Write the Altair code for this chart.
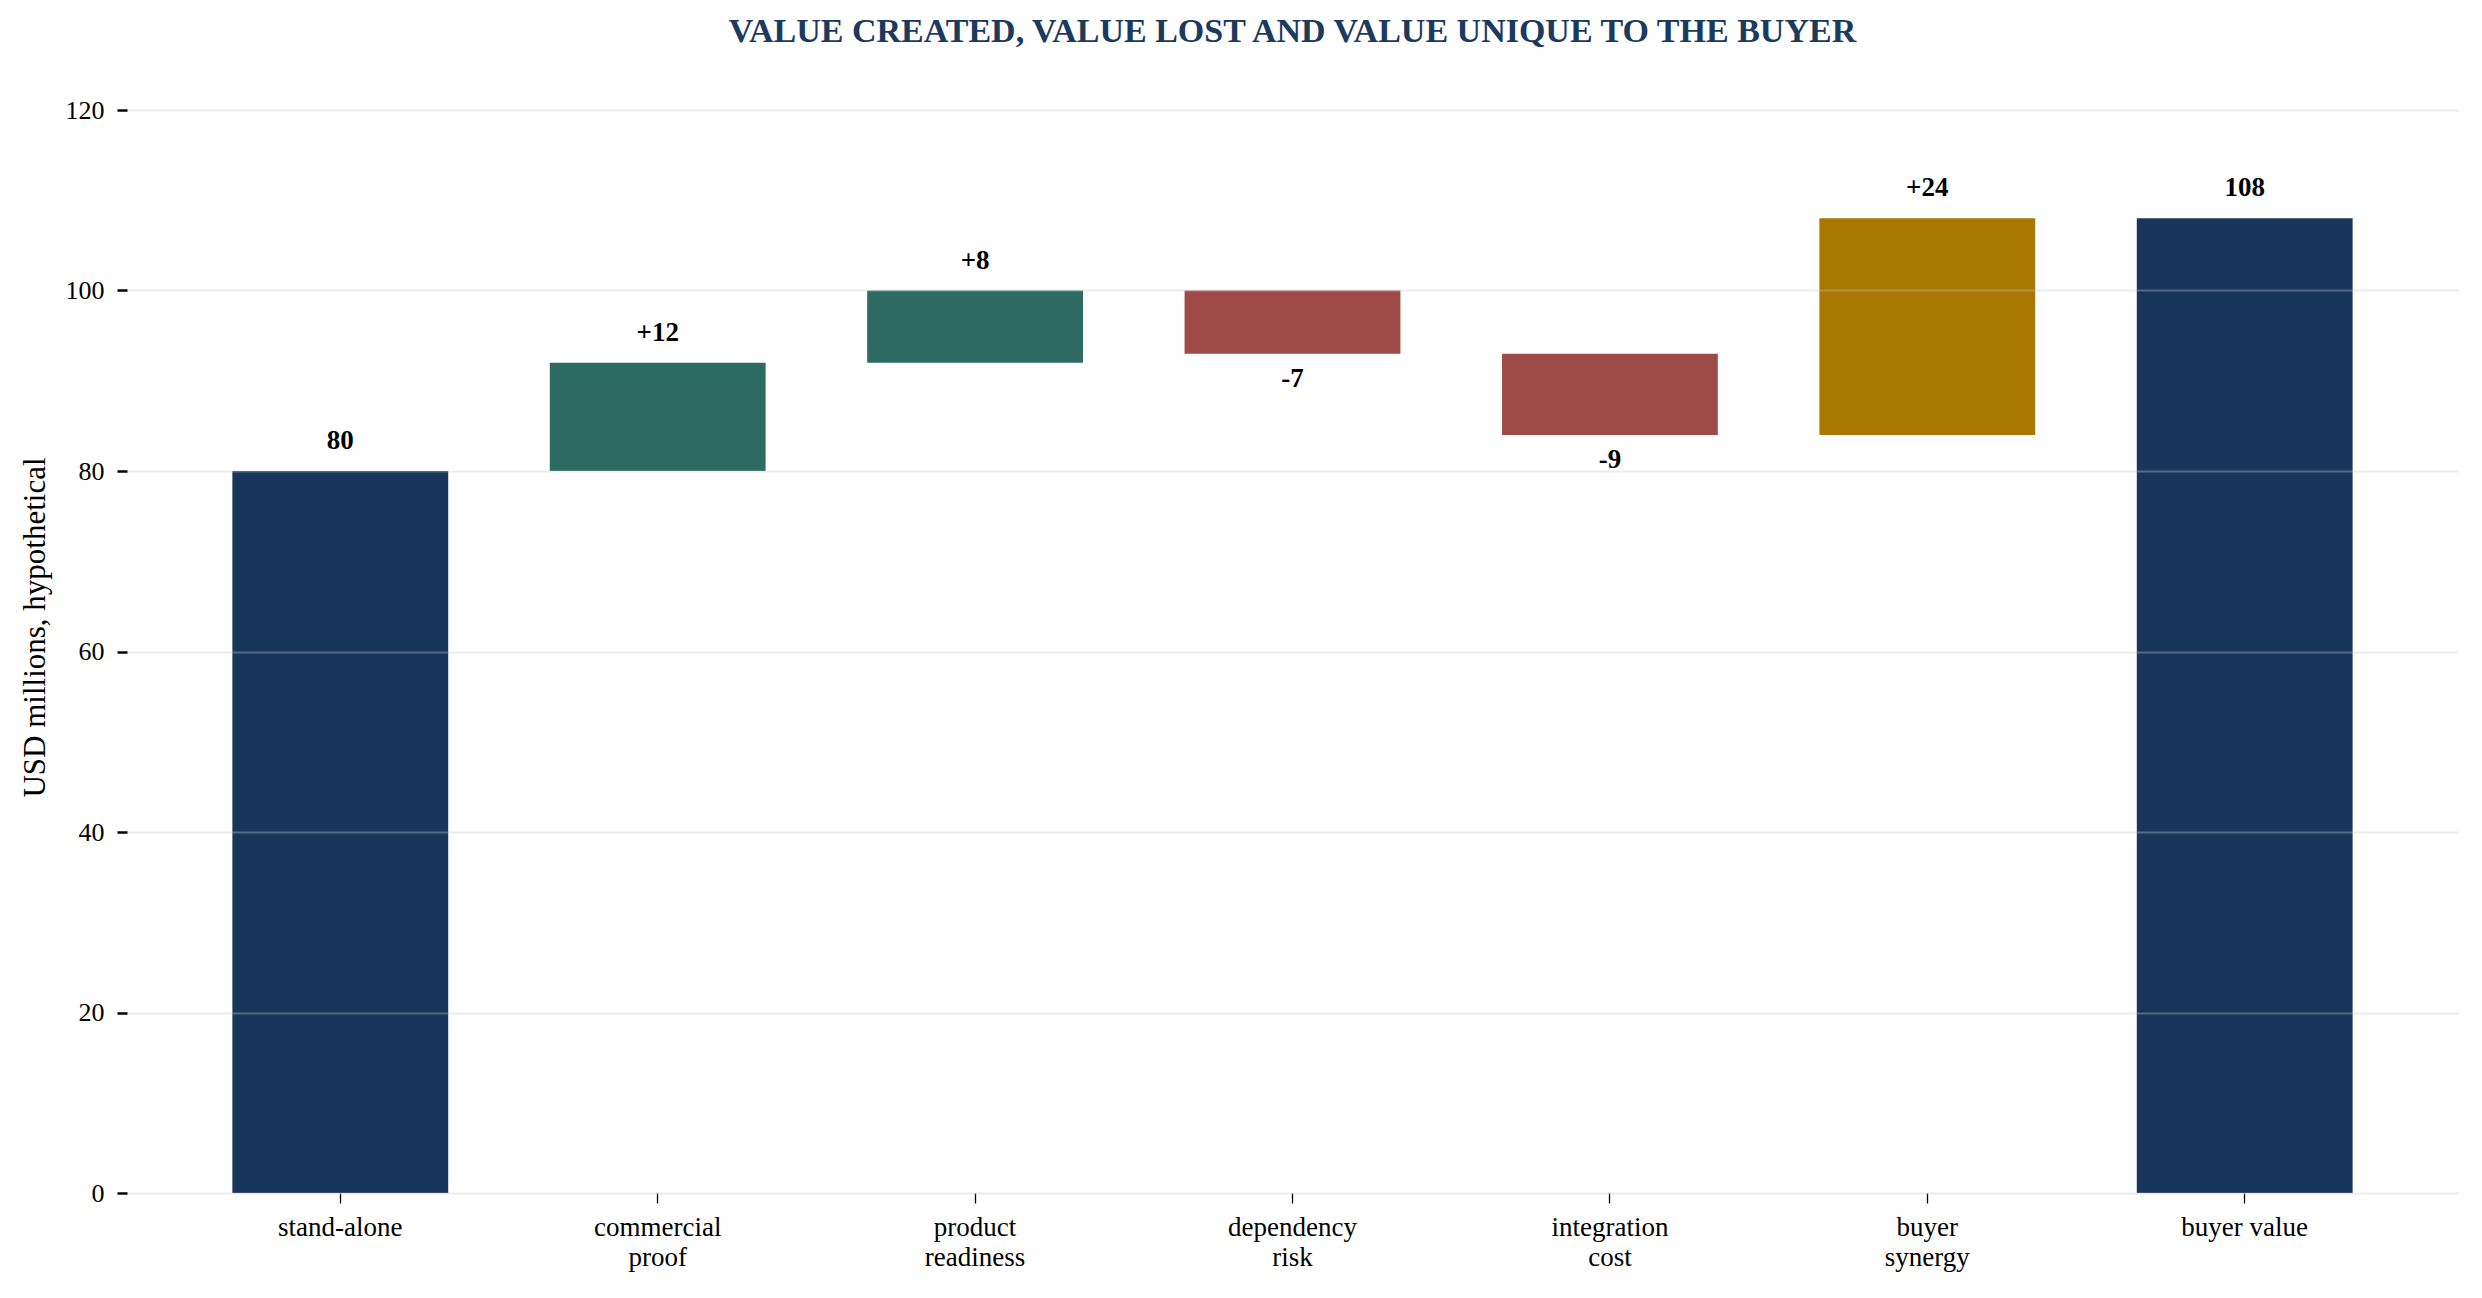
import altair as alt
import pandas as pd

categories = ["stand-alone", "commercial\nproof", "product\nreadiness", "dependency\nrisk",
              "integration\ncost", "buyer\nsynergy", "buyer value"]
changes = [80, 12, 8, -7, -9, 24, 108]
kinds = ["total", "gain", "gain", "loss", "loss", "synergy", "total"]
value_labels = ["80", "+12", "+8", "-7", "-9", "+24", "108"]

kind_domain = ["total", "gain", "loss", "synergy"]
kind_colors = ["#18365c", "#2e6b62", "#9e4b48", "#a87800"]

starts, ends = [], []
running = 0
for c, k in zip(changes, kinds):
    if k == "total":
        s, e = 0, c
    else:
        s, e = running, running + c
    running = e
    starts.append(s)
    ends.append(e)

df = pd.DataFrame({
    "category": categories,
    "change": changes,
    "kind": kinds,
    "label": value_labels,
    "start": starts,
    "end": ends,
})

FONT = "Liberation Serif"

x_enc = alt.X(
    "category:N",
    sort=categories,
    title=None,
    scale=alt.Scale(paddingInner=0.32, paddingOuter=0.332),
    axis=alt.Axis(
        labelExpr="split(datum.label, '\\n')",
        labelAngle=0,
        labelFont=FONT,
        labelFontSize=27,
        labelColor="#000000",
        labelLineHeight=30,
        labelPadding=11,
        labelBaseline="top",
        tickSize=10,
        tickWidth=1.3,
        tickColor="#000000",
        domain=False,
        grid=False,
    ),
)

base = alt.Chart(df)

bars = base.mark_bar().encode(
    x=x_enc,
    y=alt.Y(
        "start:Q",
        scale=alt.Scale(domain=[0, 120], nice=False, zero=True),
        title="USD millions, hypothetical",
        axis=alt.Axis(
            values=[0, 20, 40, 60, 80, 100, 120],
            labelFont=FONT,
            labelFontSize=26,
            labelColor="#000000",
            labelPadding=13,
            tickSize=10,
            tickWidth=2.5,
            tickColor="#000000",
            domain=False,
            grid=True,
            gridColor="#c8c8c8",
            gridOpacity=0.35,
            gridWidth=2,
            zindex=1,
            titleFont=FONT,
            titleFontSize=31,
            titleFontWeight="normal",
            titleColor="#000000",
            titleAngle=270,
            titleAlign="center",
            titleBaseline="alphabetic",
            titleX=-83,
            titleY=517,
        ),
    ),
    y2="end:Q",
    color=alt.Color("kind:N", scale=alt.Scale(domain=kind_domain, range=kind_colors), legend=None),
)

pos_text = base.transform_filter("datum.change >= 0").mark_text(
    font=FONT, fontSize=27, fontWeight="bold", color="#000000", baseline="middle", dy=-30
).encode(x=alt.X("category:N", sort=categories), y="end:Q", text="label:N")

neg_text = base.transform_filter("datum.change < 0").mark_text(
    font=FONT, fontSize=27, fontWeight="bold", color="#000000", baseline="middle", dy=25
).encode(x=alt.X("category:N", sort=categories), y="end:Q", text="label:N")

chart = alt.layer(bars, pos_text, neg_text).properties(
    width=2331,
    height=1083,
    title=alt.TitleParams(
        "VALUE CREATED, VALUE LOST AND VALUE UNIQUE TO THE BUYER",
        font=FONT,
        fontSize=34,
        fontWeight="bold",
        color="#1b3a5e",
        anchor="middle",
        baseline="alphabetic",
        offset=21,
    ),
    autosize=alt.AutoSizeParams(type="none"),
    padding={"left": 119, "top": 102, "right": 16, "bottom": 97},
).configure(background="#ffffff").configure_view(stroke="transparent", strokeWidth=0)

chart.save("out.html", embed_options={"renderer": "svg", "actions": False})
